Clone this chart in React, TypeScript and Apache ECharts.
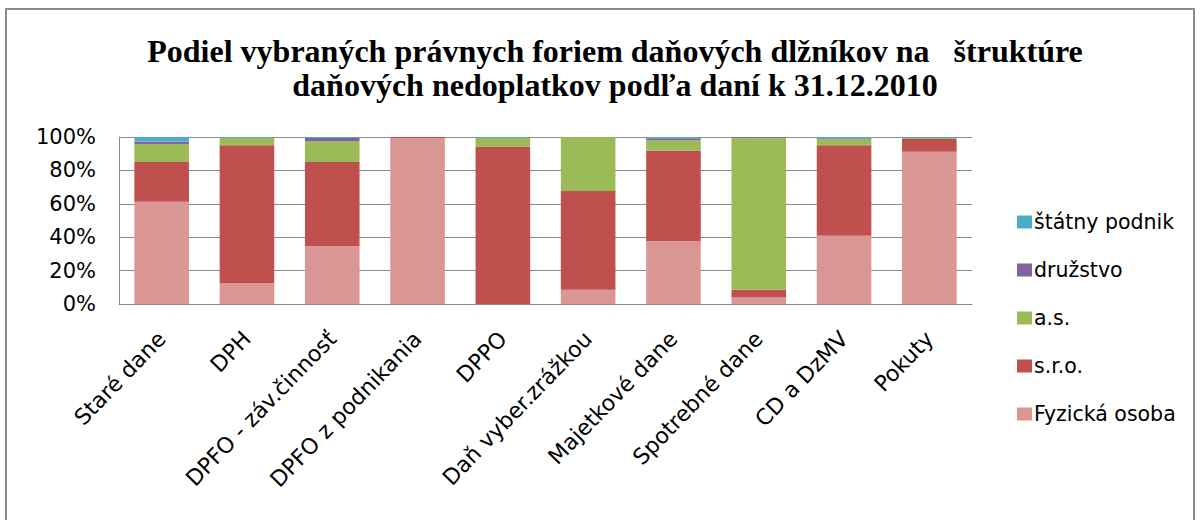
import React, { useEffect, useRef } from "react";
import * as echarts from "echarts";

const categories = [
  "Staré dane",
  "DPH",
  "DPFO - záv.činnosť",
  "DPFO z podnikania",
  "DPPO",
  "Daň vyber.zrážkou",
  "Majetkové dane",
  "Spotrebné dane",
  "CD a DzMV",
  "Pokuty",
];

const fyzickaOsoba = [61.2, 12.5, 34.6, 99.4, 0.0, 8.5, 37.6, 3.9, 40.8, 91.1];
const sro = [23.9, 82.5, 50.5, 0.6, 94.3, 59.1, 54.3, 4.6, 54.2, 7.7];
const as = [10.7, 4.6, 12.3, 0.0, 5.3, 32.4, 6.1, 91.1, 3.8, 0.8];
const druzstvo = [1.5, 0.0, 2.0, 0.0, 0.0, 0.0, 1.2, 0.4, 0.5, 0.0];
const statnyPodnik = [2.7, 0.4, 0.6, 0.0, 0.4, 0.0, 0.8, 0.0, 0.7, 0.4];

const seriesNames = ["Fyzická osoba", "s.r.o.", "a.s.", "družstvo", "štátny podnik"];
const seriesData = [fyzickaOsoba, sro, as, druzstvo, statnyPodnik];
const seriesColors = ["#D99694", "#C0504D", "#9BBB59", "#8064A2", "#4BACC6"];

const yTicks = [0, 20, 40, 60, 80, 100];

const titleText =
  "Podiel vybraných právnych foriem daňových dlžníkov na   štruktúre\ndaňových nedoplatkov podľa daní k 31.12.2010";

export default function App() {
  const ref = useRef<HTMLDivElement>(null);
  useEffect(() => {
    if (!ref.current) return;
    const chart = echarts.init(ref.current, undefined, { renderer: "svg" });
    const labelFont = "'DejaVu Sans', sans-serif";
    chart.setOption({
      animation: false,
      backgroundColor: "#ffffff",
      title: {
        text: titleText,
        left: 610,
        textAlign: "center",
        top: 29,
        textStyle: {
          fontFamily: "'Liberation Serif', serif",
          fontWeight: "bold",
          fontSize: 32,
          lineHeight: 34,
          color: "#000",
        },
      },
      legend: {
        orient: "vertical",
        left: 1012,
        top: 206,
        itemGap: 26,
        itemWidth: 15,
        itemHeight: 13,
        icon: "rect",
        data: seriesNames.slice().reverse(),
        textStyle: {
          fontFamily: labelFont,
          fontSize: 20.5,
          lineHeight: 22,
          color: "#000",
          padding: [0, 0, 0, -3],
        },
      },
      graphic: [
        {
          type: "rect",
          shape: { x: 6, y: 9, width: 1188, height: 530 },
          style: { fill: "none", stroke: "#8c8c8c", lineWidth: 2 },
          silent: true,
        },
      ],
      grid: { left: 119, right: 228, top: 137, bottom: 216, containLabel: false },
      xAxis: {
        type: "category",
        data: categories,
        axisLine: { lineStyle: { color: "#8c8c8c", width: 1 } },
        axisTick: { show: false },
        axisLabel: {
          rotate: 46,
          interval: 0,
          margin: 31,
          fontFamily: labelFont,
          fontSize: 22,
          color: "#000",
        },
      },
      yAxis: {
        type: "value",
        min: yTicks[0],
        max: yTicks[yTicks.length - 1],
        interval: 20,
        axisLine: { show: true, lineStyle: { color: "#8c8c8c" } },
        axisTick: { show: false },
        splitLine: { lineStyle: { color: "#8c8c8c", width: 1 } },
        axisLabel: {
          formatter: (v: number) => v + "%",
          margin: 23,
          fontFamily: labelFont,
          fontSize: 21,
          color: "#000",
        },
      },
      series: seriesNames.map((name, i) => ({
        name,
        type: "bar",
        stack: "total",
        barWidth: "64%",
        data: seriesData[i],
        itemStyle: { color: seriesColors[i] },
      })),
    });
    return () => chart.dispose();
  }, []);
  return (
    <div
      ref={ref}
      style={{ position: "fixed", left: 0, top: 0, width: 1200, height: 520 }}
    />
  );
}
